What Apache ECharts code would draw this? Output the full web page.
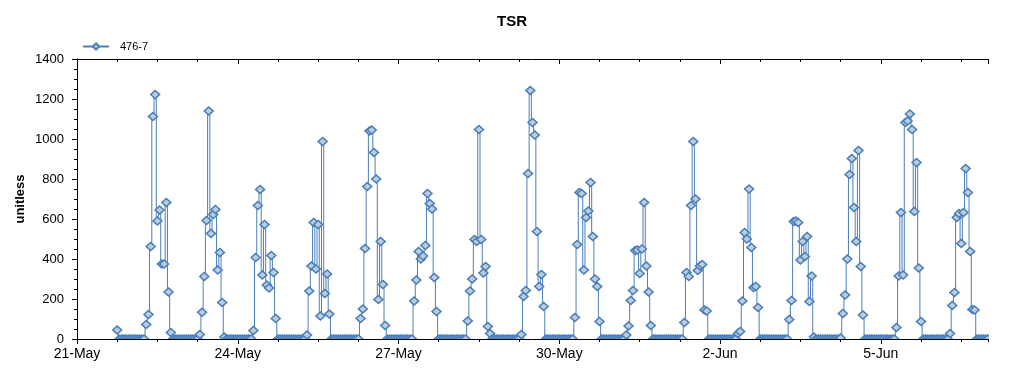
<!DOCTYPE html>
<html lang="en">
<head>
<meta charset="UTF-8">
<title>TSR</title>
<script src="https://cdn.jsdelivr.net/npm/echarts@6.0.0/dist/echarts.min.js"></script>
<style>
  html, body { margin: 0; padding: 0; background: #fff; }
  #main { width: 1024px; height: 375px; }
</style>
</head>
<body>
<div id="main"></div>
<script>
// hourly TSR, station 476-7. x = days since 21-May 00:00
var seriesName = '476-7';
var tickLabels = ['21-May', '24-May', '27-May', '30-May', '2-Jun', '5-Jun'];

// 21-May, 18:00 .. 23:00
var may21Evening = [45, 0, 0, 0, 0, 0];

// each day: 06:00 .. 19:00, the other hours read 0
var HOUR_FIRST = 6;
var may22 = [0, 73, 123, 462, 1112, 1223, 590, 645, 375, 375, 682, 235, 33, 0];
var may23 = [0, 23, 134, 312, 592, 1140, 527, 622, 648, 345, 433, 183, 10, 0];
var may24 = [0, 43, 407, 667, 748, 320, 573, 270, 255, 417, 333, 103, 0, 0];
var may25 = [0, 20, 240, 365, 582, 350, 573, 115, 987, 228, 325, 125, 0, 0];
var may26 = [0, 102, 150, 453, 762, 1040, 1045, 932, 800, 198, 487, 273, 67, 0];
var may27 = [0, 190, 295, 437, 400, 415, 467, 728, 678, 650, 307, 137, 0, 0];
var may28 = [0, 90, 240, 300, 498, 487, 1047, 498, 330, 362, 62, 27, 0, 0];
var may29 = [0, 23, 212, 242, 828, 1243, 1083, 1020, 537, 262, 323, 162, 0, 0];
var may30 = [0, 108, 473, 732, 728, 345, 608, 640, 782, 512, 300, 262, 87, 0];
var may31 = [20, 65, 192, 242, 442, 445, 328, 450, 682, 365, 235, 67, 0, 0];
var jun1  = [0, 0, 83, 333, 312, 667, 987, 700, 342, 365, 372, 145, 140, 0];
var jun2  = [0, 0, 28, 37, 190, 532, 500, 750, 458, 258, 262, 157, 0, 0];
var jun3  = [0, 98, 192, 587, 590, 582, 395, 487, 412, 512, 187, 315, 10, 0];
var jun4  = [5, 128, 220, 400, 823, 903, 658, 487, 942, 362, 120, 0, 0, 0];
var jun5  = [0, 57, 315, 633, 320, 1082, 1090, 1125, 1048, 638, 883, 355, 87, 0];
var jun6  = [0, 28, 167, 232, 607, 628, 478, 633, 853, 732, 437, 148, 145, 0];

var days = [may22, may23, may24, may25, may26, may27, may28, may29,
            may30, may31, jun1, jun2, jun3, jun4, jun5, jun6];

var points = [];
may21Evening.forEach(function (v, i) {
    points.push([(18 + i) / 24, v]);
});
days.forEach(function (vals, d) {
    for (var h = 0; h < 24; h++) {
        var k = h - HOUR_FIRST;
        points.push([d + 1 + h / 24, (k >= 0 && k < vals.length) ? vals[k] : 0]);
    }
});
points.push([17, 0]); // 7-Jun 00:00

var black = '#000';
var font = 'Arial, "Liberation Sans", sans-serif';

function xAx(position, step, len, inside, showLine, showLabel) {
    return {
        type: 'value', min: 0, max: 17, interval: step, position: position, z: 10,
        axisLine: { show: showLine, lineStyle: { color: black, width: 1 } },
        axisTick: { show: true, inside: inside, length: len, lineStyle: { color: black } },
        axisLabel: {
            show: showLabel, color: black, fontSize: 14, fontFamily: font, margin: 8,
            showMaxLabel: false,
            formatter: function (v) { return tickLabels[Math.round(v / 3)] || ''; }
        },
        splitLine: { show: false }
    };
}

function yAx(position, inside, showLabel) {
    return {
        type: 'value', min: 0, max: 1400, interval: 200, position: position, z: 10,
        name: showLabel ? 'unitless' : '',
        nameLocation: 'middle', nameGap: 50, nameMoveOverlap: false,
        nameTextStyle: { color: black, fontWeight: 'bold', fontSize: 13, fontFamily: font },
        axisLine: { show: true, lineStyle: { color: black, width: 1 } },
        axisTick: { show: true, inside: inside, length: 5, lineStyle: { color: black } },
        minorTick: { show: true, splitNumber: 4, length: 3, lineStyle: { color: black } },
        axisLabel: {
            show: showLabel, color: black, fontSize: 13, fontFamily: font, margin: 13,
            formatter: function (v) { return String(v); }
        },
        splitLine: { show: false },
        minorSplitLine: { show: false }
    };
}

var chart = echarts.init(document.getElementById('main'));
chart.setOption({
    animation: false,
    backgroundColor: '#fff',
    textStyle: { fontFamily: font },
    title: {
        text: 'TSR', left: 'center', top: 9,
        textStyle: { color: black, fontSize: 15, fontWeight: 'bold', fontFamily: font }
    },
    legend: {
        left: 77, top: 36,
        itemWidth: 26, itemHeight: 8,
        textStyle: { color: black, fontSize: 11, fontFamily: font, padding: [0, 0, 0, 6] },
        data: [seriesName]
    },
    grid: { left: 77, right: 36, top: 59, bottom: 36 },
    xAxis: [
        xAx('bottom', 3, 5, false, true, true),
        xAx('bottom', 0.75, 3, false, false, false),
        xAx('top', 3, 5, true, true, false),
        xAx('top', 0.75, 3, true, false, false)
    ],
    yAxis: [
        yAx('left', false, true),
        yAx('right', true, false)
    ],
    // hides the lower halves of the markers sitting on the plot frame
    graphic: [
        { type: 'rect', left: 78, top: 340, z: 5, silent: true,
          shape: { width: 916, height: 6 }, style: { fill: '#fff' } },
        { type: 'rect', left: 989, top: 330, z: 5, silent: true,
          shape: { width: 8, height: 16 }, style: { fill: '#fff' } }
    ],
    series: [{
        name: seriesName,
        type: 'line',
        step: 'middle',
        xAxisIndex: 0,
        yAxisIndex: 0,
        data: points,
        symbol: 'diamond',
        symbolSize: [9, 8],
        showSymbol: true,
        showAllSymbol: true,
        lineStyle: { color: '#4a7ebb', width: 1 },
        itemStyle: { color: '#bacddb', borderColor: '#4a7ebb', borderWidth: 1.5 }
    }]
});
</script>
</body>
</html>
